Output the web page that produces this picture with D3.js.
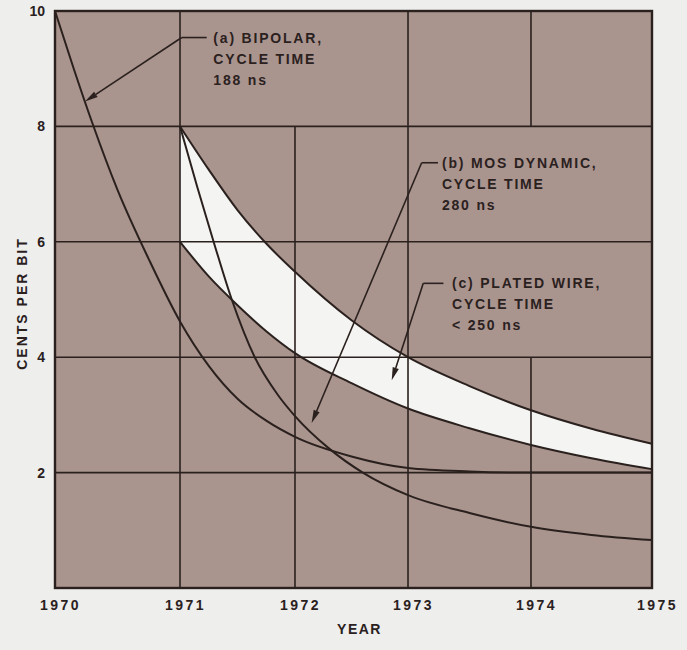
<!DOCTYPE html>
<html>
<head>
<meta charset="utf-8">
<script src="https://cdn.jsdelivr.net/npm/d3@7"></script>
<style>
  html, body { margin: 0; padding: 0; background: #eeeeec; }
  svg { display: block; }
  text { font-family: "Liberation Sans", Arial, sans-serif; font-weight: bold; fill: #2a211e; }
</style>
</head>
<body>
<svg id="chart" width="687" height="650"></svg>
<script>
// ---------- data ----------
const years = [1970, 1971, 1972, 1973, 1974, 1975];
const yTicks = [2, 4, 6, 8, 10];
const yearLabels = ["1970", "1971", "1972", "1973", "1974", "1975"];
const gridH = [2, 4, 6, 8];
const gridVYears = [1971, 1972, 1973, 1974];
const gridVSpans = [[[0, 10]], [[0, 8]], [[0, 10]], [[0, 4], [8, 10]]];

// (a) bipolar
const bipolar = [[1970, 10], [1970.15, 9.0], [1970.30, 8.05], [1970.5, 6.9], [1970.75, 5.7], [1971, 4.62],
  [1971.25, 3.85], [1971.5, 3.28], [1971.75, 2.9], [1972, 2.62], [1972.5, 2.28], [1973, 2.08],
  [1973.5, 2.02], [1974, 2.0], [1975, 2.0]];
// (b) MOS dynamic
const mosDynamic = [[1971, 8], [1971.15, 6.95], [1971.3, 5.95], [1971.45, 5.0], [1971.65, 4.0], [1971.85, 3.35],
  [1972, 2.98], [1972.3, 2.42], [1972.6, 2.0], [1973, 1.61], [1973.5, 1.30], [1974, 1.06], [1974.5, 0.92], [1975, 0.83]];
// (c) plated wire band: upper and lower edges
const platedUpper = [[1971, 8], [1971.25, 7.25], [1971.5, 6.55], [1971.75, 5.97], [1972, 5.48], [1972.5, 4.64],
  [1973, 4.0], [1973.5, 3.5], [1974, 3.08], [1974.5, 2.76], [1975, 2.5]];
const platedLower = [[1971, 6], [1971.25, 5.4], [1971.5, 4.9], [1971.75, 4.45], [1972, 4.07], [1972.5, 3.55],
  [1973, 3.11], [1973.5, 2.77], [1974, 2.48], [1974.5, 2.25], [1975, 2.06]];

// annotations (data units)
const annoText = [["(a) BIPOLAR,", "CYCLE TIME", "188 ns"],
                  ["(b) MOS DYNAMIC,", "CYCLE TIME", "280 ns"],
                  ["(c) PLATED WIRE,", "CYCLE TIME", "< 250 ns"]];
const annoElbow = [[1971.015, 9.54], [1973.111, 7.37], [1973.124, 5.28]];
const annoBarEnd = [1971.232, 1973.244, 1973.288];
const annoTextX = [1971.29, 1973.276, 1973.358];
const annoTip = [[1970.24, 8.43], [1972.147, 2.86], [1972.856, 3.60]];

// ---------- layout ----------
const W = 687, H = 650;
const M = { left: 55, top: 11, right: 35, bottom: 62 };
const plotW = W - M.left - M.right;
const xStops = [0, 0.2094, 0.4020, 0.5913, 0.7973, 1]; // hand-drawn grid spacing
const ink = "#2a211e";
const plotFill = "#aa948e";
const bandFill = "#f4f4f2";

const x = d3.scaleLinear().domain(years).range(xStops.map(f => M.left + f * plotW));
const y = d3.scaleLinear().domain([0, 10]).range([H - M.bottom, M.top]);

const svg = d3.select("#chart");

svg.append("rect").attr("x", x(1970)).attr("y", y(10))
  .attr("width", x(1975) - x(1970)).attr("height", y(0) - y(10)).attr("fill", plotFill);

// white band: fill under upper, then cover under lower
const areaGen = d3.area().x(d => x(d[0])).y0(y(0)).y1(d => y(d[1])).curve(d3.curveMonotoneX);
svg.append("path").datum(platedUpper).attr("d", areaGen).attr("fill", bandFill);
svg.append("path").datum(platedLower).attr("d", areaGen).attr("fill", plotFill);

// grid
const grid = svg.append("g").attr("stroke", ink).attr("stroke-width", 1.6);
gridH.forEach(v => grid.append("line").attr("x1", x(1970)).attr("x2", x(1975)).attr("y1", y(v)).attr("y2", y(v)));
gridVYears.forEach((yr, i) => gridVSpans[i].forEach(s =>
  grid.append("line").attr("x1", x(yr)).attr("x2", x(yr)).attr("y1", y(s[0])).attr("y2", y(s[1]))));

// curves
const lineGen = d3.line().x(d => x(d[0])).y(d => y(d[1])).curve(d3.curveMonotoneX);
[bipolar, mosDynamic, platedUpper, platedLower].forEach(s =>
  svg.append("path").datum(s).attr("d", lineGen).attr("fill", "none")
    .attr("stroke", ink).attr("stroke-width", 2).attr("stroke-linejoin", "round"));

// frame
svg.append("rect").attr("x", x(1970)).attr("y", y(10))
  .attr("width", x(1975) - x(1970)).attr("height", y(0) - y(10))
  .attr("fill", "none").attr("stroke", ink).attr("stroke-width", 2.4);

// axes labels
const yAxis = d3.axisLeft(y).tickValues(yTicks).tickSize(0).tickPadding(10).tickFormat(d3.format("d"));
const gy = svg.append("g").attr("transform", `translate(${x(1970)},0)`).call(yAxis);
gy.select(".domain").remove();
gy.selectAll("text").attr("font-size", 14).style("font-family", "Liberation Sans, Arial, sans-serif")
  .style("font-weight", "bold").attr("fill", ink);

const xAxis = d3.axisBottom(x).tickValues(years).tickSize(0).tickPadding(12).tickFormat((d, i) => yearLabels[i]);
const gx = svg.append("g").attr("transform", `translate(0,${y(0)})`).call(xAxis);
gx.select(".domain").remove();
gx.selectAll("text").attr("font-size", 14).style("font-family", "Liberation Sans, Arial, sans-serif")
  .style("font-weight", "bold").style("letter-spacing", "2.5px").attr("dx", 5).attr("fill", ink);

svg.append("text").attr("x", (x(1970) + x(1975)) / 2 + 6).attr("y", H - 16)
  .attr("text-anchor", "middle").attr("font-size", 14).style("letter-spacing", "1.5px").text("YEAR");
svg.append("text").attr("transform", `translate(22,${(y(0) + y(10)) / 2 + 4}) rotate(-90)`)
  .attr("text-anchor", "middle").attr("dy", "0.35em").attr("font-size", 14)
  .style("letter-spacing", "2px").text("CENTS PER BIT");

// annotations
const ann = svg.append("g");
annoText.forEach((lines, i) => {
  const ex = x(annoElbow[i][0]), ey = y(annoElbow[i][1]);
  const tx = x(annoTip[i][0]), ty = y(annoTip[i][1]);
  ann.append("line").attr("x1", ex).attr("y1", ey).attr("x2", x(annoBarEnd[i])).attr("y2", ey)
    .attr("stroke", ink).attr("stroke-width", 1.6);
  const ang = Math.atan2(ty - ey, tx - ex);
  const L = 13, hw = 3.2;
  const bx = tx - L * Math.cos(ang), by = ty - L * Math.sin(ang);
  ann.append("line").attr("x1", ex).attr("y1", ey).attr("x2", bx).attr("y2", by)
    .attr("stroke", ink).attr("stroke-width", 1.6);
  const px = -Math.sin(ang) * hw, py = Math.cos(ang) * hw;
  ann.append("path").attr("d", `M${tx},${ty}L${bx + px},${by + py}L${bx - px},${by - py}Z`).attr("fill", ink);
  lines.forEach((t, j) => {
    ann.append("text").attr("x", x(annoTextX[i])).attr("y", ey + j * 21).attr("dy", "0.36em")
      .attr("font-size", 14).style("letter-spacing", "1.8px").text(t);
  });
});
</script>
</body>
</html>
